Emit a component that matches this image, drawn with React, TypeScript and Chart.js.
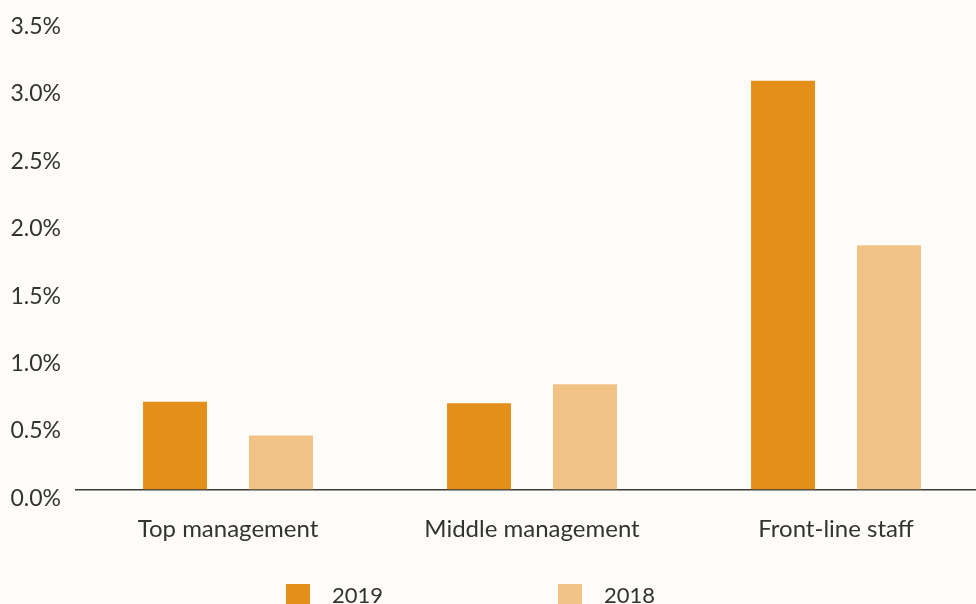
import React, { useEffect, useRef } from 'react';
import { Chart, registerables } from 'chart.js';

Chart.register(...registerables);

const categories = ['Top management', 'Middle management', 'Front-line staff'];
const seriesNames = ['2019', '2018'];
const values2019 = [0.65, 0.64, 3.03];
const values2018 = [0.4, 0.78, 1.81];
const yTickLabels = ['0.0%', '0.5%', '1.0%', '1.5%', '2.0%', '2.5%', '3.0%', '3.5%'];

const FONT = 'Lato, "Noto Sans", sans-serif';
const TEXT = '#333333';
const BG = '#FDFCF8';
const C2019 = '#E58F1B';
const C2018 = '#F2C387';

export default function App() {
  const ref = useRef<HTMLCanvasElement>(null);

  useEffect(() => {
    const canvas = ref.current;
    if (!canvas) return;
    const legendTexts = seriesNames.map(
      (n, i) => '\u2002' + n + (i === 0 ? '\u2002'.repeat(15) : '')
    );
    const chart = new Chart(canvas, {
      type: 'bar',
      data: {
        labels: categories,
        datasets: [
          {
            label: seriesNames[0],
            data: values2019,
            backgroundColor: C2019,
            categoryPercentage: 0.697,
            barPercentage: 0.604,
          },
          {
            label: seriesNames[1],
            data: values2018,
            backgroundColor: C2018,
            categoryPercentage: 0.697,
            barPercentage: 0.604,
          },
        ],
      },
      options: {
        responsive: false,
        animation: false,
        devicePixelRatio: 1,
        layout: { padding: { top: 17.4, right: 1, left: 0, bottom: 0 } },
        scales: {
          x: {
            grid: { display: false, drawTicks: false },
            border: { display: true, color: '#3a3a3a', width: 1.5 },
            ticks: {
              padding: 25,
              color: TEXT,
              font: { family: FONT, size: 24 },
            },
            afterFit: (s: any) => {
              s.height = 84.5;
              s.paddingLeft = 0;
              s.paddingRight = 0;
            },
          },
          y: {
            min: 0,
            max: 3.5,
            grid: { display: false, drawTicks: false },
            border: { display: false },
            ticks: {
              stepSize: 0.5,
              padding: 15,
              labelOffset: 9,
              color: TEXT,
              font: { family: FONT, size: 23 },
              callback: (_v: any, i: number) => yTickLabels[i],
            },
            afterFit: (s: any) => {
              s.width = 123;
              s.paddingTop = 0;
              s.paddingBottom = 0;
            },
          },
        },
        plugins: {
          tooltip: { enabled: false },
          legend: {
            position: 'bottom',
            labels: {
              boxWidth: 24,
              boxHeight: 24,
              padding: 10,
              color: TEXT,
              font: { family: FONT, size: 22 },
              generateLabels: (c: any) => {
                const items = (Chart.defaults.plugins.legend.labels as any).generateLabels(c);
                return items.map((it: any, i: number) => ({ ...it, text: legendTexts[i], lineWidth: 0 }));
              },
            },
          },
        },
      },
    });
    return () => chart.destroy();
  }, []);

  return (
    <div
      style={{
        position: 'fixed',
        left: 0,
        top: 0,
        width: 976,
        height: 604,
        overflow: 'hidden',
        background: BG,
      }}
    >
      <canvas
        ref={ref}
        width={1036}
        height={618}
        style={{ position: 'absolute', left: -47, top: 0, width: 1036, height: 618 }}
      />
    </div>
  );
}
